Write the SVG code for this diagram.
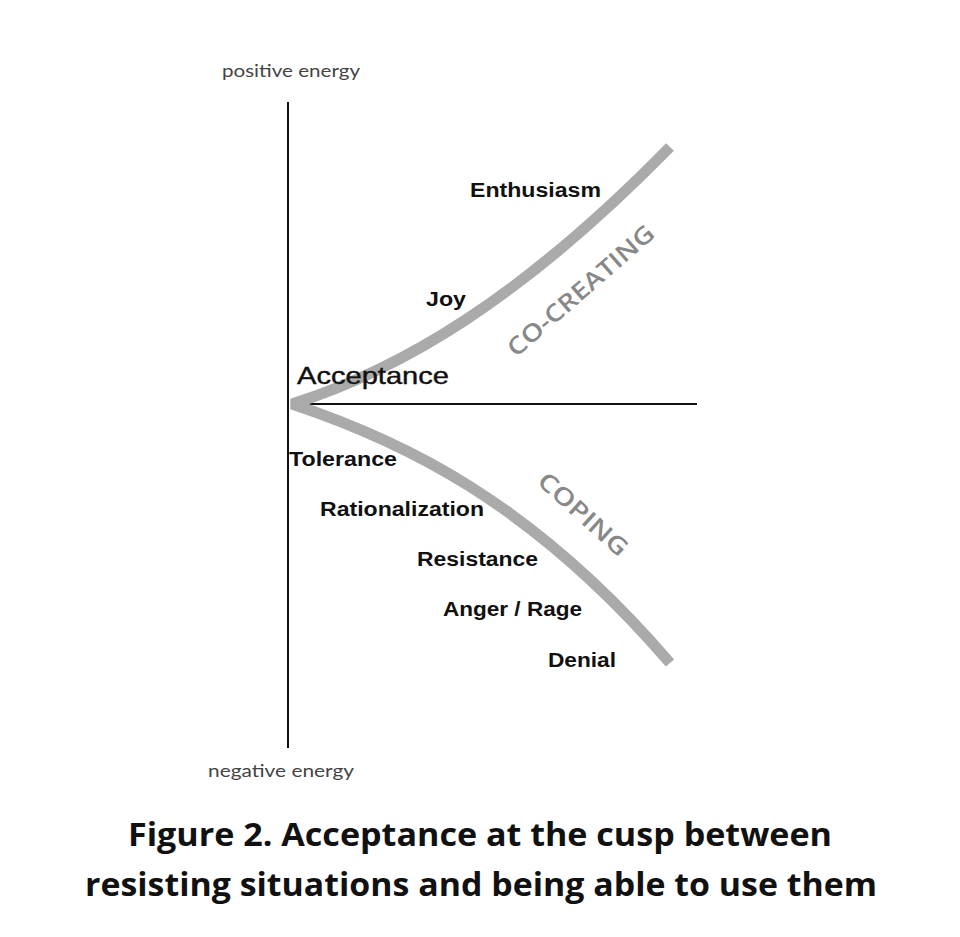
<svg xmlns="http://www.w3.org/2000/svg" width="960" height="937" viewBox="0 0 960 937">
<style>
.axis{stroke:#111;stroke-width:2;fill:none}
.curve{stroke:#aaaaaa;stroke-width:11;fill:none;stroke-linejoin:bevel}
.lbl{font-family:"Liberation Sans",Arial,sans-serif;font-weight:bold;font-size:20px;fill:#111}
.ax{font-family:Lato,"Open Sans",sans-serif;font-size:18px;fill:#444}
.phase{font-family:"Open Sans",Lato,sans-serif;font-weight:600;font-size:24px;fill:#888}
.cap{font-family:"Open Sans",Lato,sans-serif;font-weight:bold;font-size:32px;fill:#111}
</style>
<rect width="960" height="937" fill="#fff"/>
<g id="axes">
<line class="axis" x1="288" y1="102" x2="288" y2="748"/>
<line class="axis" x1="308" y1="404" x2="697" y2="404"/>
</g>
<g id="connectors">
<path class="curve" d="M670,147 C520,300 400,370 292,404 C400,440 530,500 670,663"/>
</g>
<g id="axis-labels">
<text class="ax" x="222" y="77" textLength="138" lengthAdjust="spacingAndGlyphs">positive energy</text>
<text class="ax" x="208" y="777" textLength="146" lengthAdjust="spacingAndGlyphs">negative energy</text>
</g>
<g id="node-enthusiasm"><text class="lbl" x="470" y="197" textLength="131" lengthAdjust="spacingAndGlyphs">Enthusiasm</text></g>
<g id="node-joy"><text class="lbl" x="426" y="306" textLength="40" lengthAdjust="spacingAndGlyphs">Joy</text></g>
<g id="node-acceptance"><text x="297" y="384" font-family="Liberation Sans,Arial,sans-serif" font-size="24" fill="#111" stroke="#111" stroke-width="0.4" textLength="152" lengthAdjust="spacingAndGlyphs">Acceptance</text></g>
<g id="node-tolerance"><text class="lbl" x="289" y="466" textLength="108" lengthAdjust="spacingAndGlyphs">Tolerance</text></g>
<g id="node-rationalization"><text class="lbl" x="320" y="516" textLength="164" lengthAdjust="spacingAndGlyphs">Rationalization</text></g>
<g id="node-resistance"><text class="lbl" x="417" y="566" textLength="121" lengthAdjust="spacingAndGlyphs">Resistance</text></g>
<g id="node-anger"><text class="lbl" x="443" y="616" textLength="139" lengthAdjust="spacingAndGlyphs">Anger / Rage</text></g>
<g id="node-denial"><text class="lbl" x="548" y="667" textLength="68" lengthAdjust="spacingAndGlyphs">Denial</text></g>
<g id="phase-cocreating"><text class="phase" transform="translate(516,358) rotate(-41)" textLength="186" lengthAdjust="spacingAndGlyphs">CO-CREATING</text></g>
<g id="phase-coping"><text class="phase" transform="translate(536,483) rotate(42)" textLength="112" lengthAdjust="spacingAndGlyphs">COPING</text></g>
<g id="caption">
<text class="cap" x="128" y="846" textLength="704" lengthAdjust="spacingAndGlyphs">Figure 2. Acceptance at the cusp between</text>
<text class="cap" x="85" y="896" textLength="792" lengthAdjust="spacingAndGlyphs">resisting situations and being able to use them</text>
</g>
</svg>
